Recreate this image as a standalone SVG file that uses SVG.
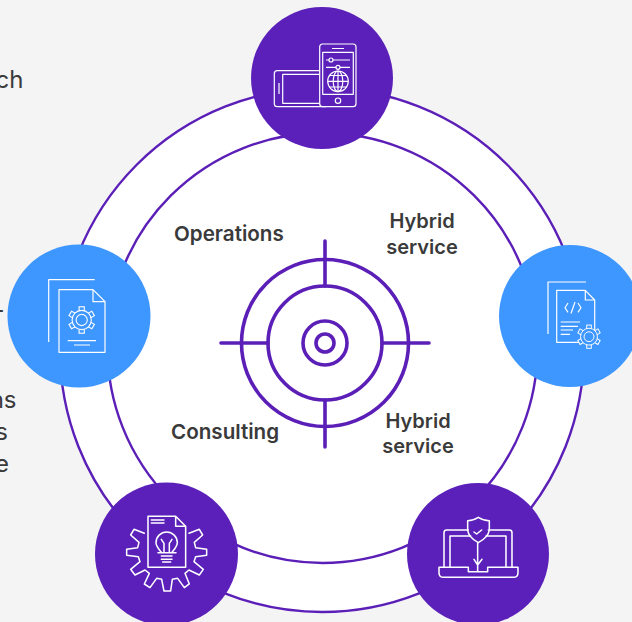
<svg xmlns="http://www.w3.org/2000/svg" width="632" height="622" viewBox="0 0 632 622">
<style>
.bg{fill:#f4f4f4}
.ring{fill:#fff;stroke:#5b1fb8;stroke-width:2.4}
.t{fill:none;stroke:#5b1fb8;stroke-width:3.6}
.tl{fill:none;stroke:#5b1fb8;stroke-width:3.6;stroke-linecap:round}
.p{fill:#5b20b9}
.b{fill:#3e96ff}
.i{fill:none;stroke:#fff;stroke-width:1.2;stroke-linejoin:round}
.i2{fill:none;stroke:#fff;stroke-width:4.6;stroke-linejoin:round;stroke-linecap:round}
text{font-family:"Inter","Noto Sans",sans-serif}
.lab{font-weight:600;font-size:20px;fill:#3a3a3a}
.wide{font-size:20.6px}
.frag{font-weight:400;font-size:24px;fill:#3a3a3a;text-anchor:end}
.m{text-anchor:middle}
</style>
<defs>
<g id="gear">
<g fill="#3e96ff" stroke="#fff" stroke-width="1.1">
<rect x="-2.6" y="-13.2" width="5.2" height="5"/>
<rect x="-2.6" y="-13.2" width="5.2" height="5" transform="rotate(60)"/>
<rect x="-2.6" y="-13.2" width="5.2" height="5" transform="rotate(120)"/>
<rect x="-2.6" y="-13.2" width="5.2" height="5" transform="rotate(180)"/>
<rect x="-2.6" y="-13.2" width="5.2" height="5" transform="rotate(240)"/>
<rect x="-2.6" y="-13.2" width="5.2" height="5" transform="rotate(300)"/>
<circle r="9.6"/>
<circle r="5.6"/>
</g>
</g>
</defs>
<rect class="bg" width="632" height="622"/>
<g id="background-text">
<text class="frag" x="23.500" y="88">ch</text>
<text class="frag" x="4.500" y="318">-</text>
<text class="frag" x="16.500" y="408">ns</text>
<text class="frag" x="8" y="440">s</text>
<text class="frag" x="9" y="472">e</text>
</g>
<g id="connectors">
<circle class="ring" cx="322" cy="350" r="262"/>
<circle class="ring" cx="322.500" cy="348" r="215"/>
</g>
<g id="target">
<circle class="t" cx="325" cy="343" r="83.500"/>
<circle class="t" cx="325" cy="343" r="57"/>
<circle class="t" cx="325" cy="343" r="22"/>
<circle class="t" cx="325" cy="343" r="9"/>
<path class="tl" d="M325 241V286M325 400V447M221 343H268M382 343H429"/>
</g>
<g id="label-operations"><text class="lab wide" x="174" y="241">Operations</text></g>
<g id="label-hybrid-1"><text class="lab m" x="422" y="228">Hybrid</text><text class="lab m" x="422" y="254">service</text></g>
<g id="label-consulting"><text class="lab wide" x="171" y="439">Consulting</text></g>
<g id="label-hybrid-2"><text class="lab m" x="418" y="428">Hybrid</text><text class="lab m" x="418" y="453">service</text></g>
<g id="node-top">
<circle class="p" cx="322" cy="78" r="71"/>
<g class="i">
<path d="M320 70.700H277.300a3 3 0 0 0-3 3V103.700a3 3 0 0 0 3 3H326"/>
<path d="M320 74.300H282.700V103.300H320"/>
<path d="M279 83V94"/>
<rect x="319.700" y="44" width="36.300" height="62.700" rx="3"/>
<rect x="322.700" y="52.300" width="30.600" height="42"/>
<path d="M332 48.500H344M326 60H350M326 67.300H350"/>
<circle cx="338" cy="100.700" r="2.700"/>
<circle cx="331" cy="60" r="2" fill="#5b20b9"/>
<circle cx="338" cy="67.300" r="2" fill="#5b20b9"/>
<circle cx="338" cy="81.300" r="10.300"/>
<ellipse cx="338" cy="81.300" rx="4.800" ry="10.300"/>
<path d="M338 71V91.600M328 81.300H348.300M329.500 75.500H346.500M329.500 87H346.500"/>
</g>
</g>
<g id="node-left">
<circle class="b" cx="79" cy="316" r="71.500"/>
<g class="i">
<path d="M94.700 279.700H48.700V342"/>
<path d="M93 289.700H59V352.300H105V301.700L93 289.700V301.700H105"/>
<path d="M67.700 340.700H96M74 345H90"/>
</g>
<use href="#gear" transform="translate(81.700 320)"/>
</g>
<g id="node-right">
<circle class="b" cx="570" cy="316" r="71"/>
<g class="i">
<path d="M586 282H548V334"/>
<path d="M585.300 290.300H556.700V342.300H594.700V300L585.300 290.300V300H594.700"/>
<path d="M568 303L565 307.700L568 312.400M578 303L581 307.700L578 312.400M575 302L571 313.500"/>
<path d="M560.700 322H580M560.700 326.300H578M560.700 330H573M560.700 334.300H570"/>
</g>
<use href="#gear" transform="translate(589 336.700) scale(.88)"/>
</g>
<g id="node-bottom-left">
<circle class="p" cx="166.500" cy="554" r="71.500"/>
<g transform="translate(90 480) scale(.3333)" class="i2">
<path d="M163 160L132 148L122 165L147 187L143 203L110 208L110 226L145 230L150 245L122 268L135 285L165 270L178 280L163 312L180 323L200 295L215 298L222 333L242 333L247 298L263 295L283 323L298 312L285 280L297 270L328 285L340 268L312 245L317 230L350 226L350 208L317 203L313 187L338 165L328 148L297 160"/>
<path d="M257 109H174V262H287V139L257 109V139H287"/>
<path d="M184 120H222M184 129H222"/>
<path d="M214 217C205 205 198 198 198 188A32 32 0 0 1 262 188C262 198 255 205 246 217"/>
<path d="M204 218H258M214 228H246M214 238H246M218 246H242"/>
<path d="M222 217V190L214 178M238 217V190L246 178"/>
</g>
</g>
<g id="node-bottom-right">
<circle class="p" cx="478" cy="554" r="71"/>
<g transform="translate(400 480) scale(.3333)" class="i2">
<path d="M132 262V158Q132 150 140 150H205M265 150H328Q336 150 336 158V262"/>
<path d="M150 262V168H212M258 168H318V262"/>
<path d="M117 262H205V275H263V262H354V278Q354 292 340 292H131Q117 292 117 278Z"/>
<path d="M235 112Q220 122 203 122V150Q205 172 235 188Q265 172 268 150V122Q250 122 235 112Z"/>
<path d="M222 156L230 162L245 150"/>
<path d="M233 188V272M222 238L233 255L246 238"/>
</g>
</g>
</svg>
